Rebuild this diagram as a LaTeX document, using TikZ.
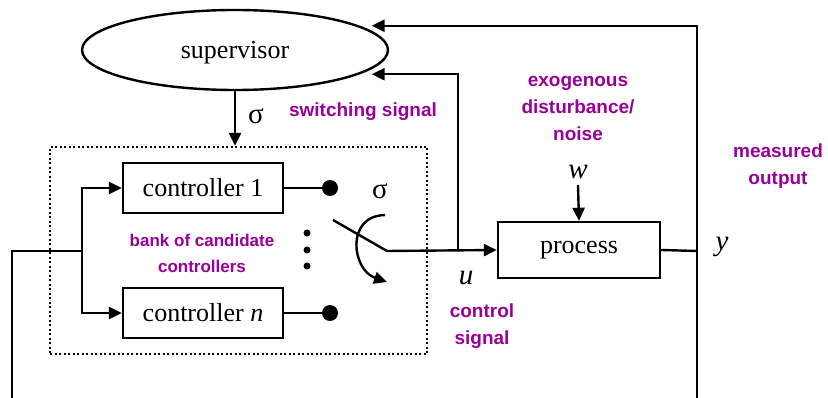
\documentclass[tikz,border=0pt]{standalone}
\usepackage{fontspec}
\setmainfont{Liberation Serif}
\newfontfamily\notefont{Liberation Sans}
\usetikzlibrary{shapes.geometric,arrows.meta}
\definecolor{notepurple}{RGB}{153,0,153}

\begin{document}
\begin{tikzpicture}
  [ x=1pt, y=-1pt,
    blk/.style={rectangle, draw=black, line width=2.4pt, minimum width=160pt, minimum height=50pt, inner sep=0pt, font=\fontsize{26}{28}\selectfont},
    sup/.style={ellipse, draw=black, line width=2.4pt, minimum width=306pt, minimum height=80pt, font=\fontsize{26}{28}\selectfont},
    note/.style={font=\fontsize{19}{27}\notefont\bfseries, text=notepurple, align=center},
    sym/.style={font=\fontsize{29}{30}\selectfont, inner sep=0pt},
    contact/.style={circle, fill=black, inner sep=0pt, minimum size=16pt},
    dotty/.style={circle, fill=black, inner sep=0pt, minimum size=7pt},
    line/.style={-, line width=2.4pt, black},
    arr/.style={-{Triangle[length=13pt,width=12pt]}, line width=2.4pt, black}
  ]
  \useasboundingbox (0,0) rectangle (828,398);

  % blocks
  \node[sup, text depth=0pt] (supervisor) at (235,50) {supervisor};
  \node[rectangle, draw=black, line width=2.4pt, dash pattern=on 2pt off 2.5pt, minimum width=377pt, minimum height=207pt] (bank) at (238.5,250.5) {};
  \node[blk] (ctrlone) at (203,188) {controller 1};
  \node[blk] (ctrln) at (203,313) {controller \textit{n}};
  \node[blk, minimum width=162pt, minimum height=56pt] (process) at (579,250) {process};

  % switch contacts
  \node[contact] (contone) at (330,188) {};
  \node[contact] (contn) at (330,313) {};
  \node[dotty] (dota) at (307,233) {};
  \node[dotty] (dotb) at (307,250) {};
  \node[dotty] (dotc) at (307,266) {};
  \coordinate (lever) at (333,220);
  \coordinate (pivot) at (387,251);

  % junctions and loose ends
  \coordinate (split) at (82,251);
  \coordinate (fbend) at (12,398);
  \coordinate (utap) at (458,251);
  \coordinate (ytap) at (697,251);
  \coordinate (yend) at (697,398);

  % symbols and labels
  \node[sym] (sigmaone) at (256,116) {σ};
  \node[sym] (sigmatwo) at (380,191) {σ};
  \node[sym] (wsig) at (578,172) {\textit{w}};
  \node[sym] (usig) at (466,278) {\textit{u}};
  \node[sym] (ysig) at (722,247) {\textit{y}};
  \node[note] at (363,112) {switching signal};
  \node[note, font=\fontsize{17}{26}\notefont\bfseries] at (202,253) {bank of candidate\\controllers};
  \node[note] at (578,108) {exogenous\\disturbance/\\noise};
  \node[note] at (778,166) {measured\\output};
  \node[note] at (482,326) {control\\signal};

  % connections
  \draw [arr] (supervisor.south) -- (bank.north -| supervisor.south);
  \draw [line] (fbend) |- (split);
  \draw [arr] (split) |- (ctrlone.west);
  \draw [arr] (split) |- (ctrln.west);
  \draw [line] (ctrlone.east) -- (contone);
  \draw [line] (ctrln.east) -- (contn);
  \draw [line] (lever) -- (pivot);
  \draw [arr] (pivot) -- (process.west);
  \draw [arr, shorten >=12pt] (utap) |- (supervisor.-11);
  \draw [arr] (wsig.south) ++(0,6) -- (process.north);
  \draw [line] (process.east) -- (ytap);
  \draw [line] (ytap) -- (yend);
  \draw [arr, shorten >=12pt] (ytap) |- (supervisor.11);
  \draw [arr] (385,215) .. controls (345,216) and (352,270) .. (387,282);
\end{tikzpicture}
\end{document}
